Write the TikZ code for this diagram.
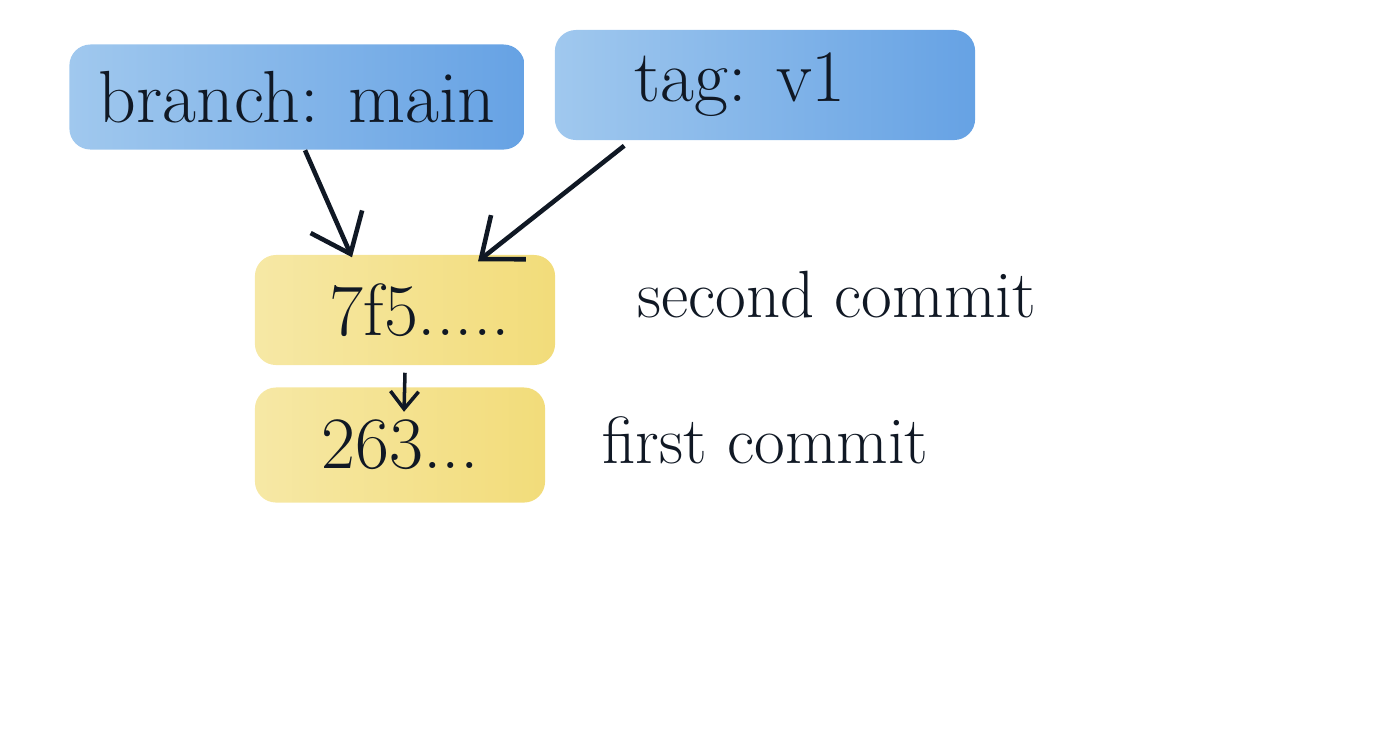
\documentclass[tikz,border=0pt]{standalone}
\usepackage{tikz}
\usetikzlibrary{arrows.meta}
\definecolor{brushblue}{RGB}{102,162,228}
\definecolor{brushblueL}{RGB}{160,200,238}
\definecolor{brushyellow}{RGB}{242,220,122}
\definecolor{brushyellowL}{RGB}{246,232,165}
\definecolor{ink}{RGB}{16,24,36}
\tikzset{
  ref/.style={rounded corners=6pt, left color=brushblueL, right color=brushblue,
    text=ink, font=\fontsize{21}{24}\selectfont, inner sep=0pt},
  commit/.style={rounded corners=6pt, left color=brushyellowL, right color=brushyellow,
    text=ink, font=\fontsize{21}{24}\selectfont, inner sep=0pt},
  msg/.style={text=ink, font=\fontsize{19}{24}\selectfont, anchor=west},
  pointer/.style={draw=ink, line width=1.3pt, -{Straight Barb[length=10pt,width=16pt]}},
  parent/.style={draw=ink, line width=1pt, -{Straight Barb[length=5pt,width=8pt]}}
}
\begin{document}
\begin{tikzpicture}[x=0.01cm,y=-0.01cm]
  \useasboundingbox (0,0) rectangle (1400,735);
  \node[ref, minimum width=4.55cm, minimum height=1.05cm] (branch) at (297,97) {branch: main};
  \node[ref, minimum width=4.2cm, minimum height=1.1cm] (tag) at (765,85) {\hspace{-0.5cm}tag: v1};
  \node[commit, minimum width=3cm, minimum height=1.1cm] (c2) at (405,310) {\hspace{0.3cm}7f5.....};
  \node[commit, minimum width=2.9cm, minimum height=1.15cm] (c1) at (400,445) {263...};
  \node[msg] (m2) at (625,295) {second commit};
  \node[msg] (m1) at (590,440) {first commit};

  \draw[pointer] ([xshift=0.08cm]branch.south) -- ([xshift=-0.53cm,yshift=-0.03cm]c2.north);
  \draw[pointer] ([xshift=0.7cm,yshift=-0.05cm]tag.south west) -- ([xshift=0.73cm,yshift=-0.07cm]c2.north);
  \draw[parent] ([yshift=-0.07cm]c2.south) -- ([xshift=0.04cm,yshift=-0.25cm]c1.north);
\end{tikzpicture}
\end{document}
